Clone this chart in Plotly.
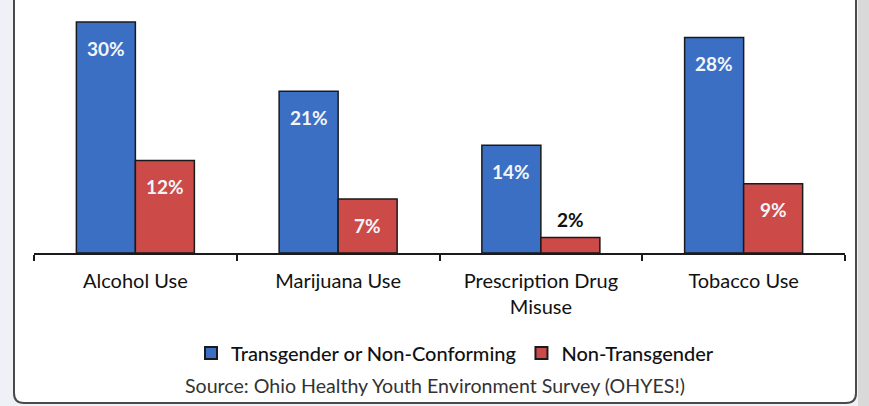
import plotly.graph_objects as go

# Substance use among Ohio youth, by gender identity (percent)
categories = ["Alcohol Use", "Marijuana Use", "Prescription Drug<br>Misuse", "Tobacco Use"]
trans_values = [30, 21, 14, 28]
nontrans_values = [12, 7, 2, 9]
series_names = ["Transgender or Non-Conforming", "Non-Transgender"]
source_text = "Source: Ohio Healthy Youth Environment Survey (OHYES!)"

BLUE = "#3b6fc4"
RED = "#cc4a48"
FONT = "Lato"

W, H = 869, 406
M_L, M_R, M_T, M_B = 34, 24, 0, 153
plot_w = W - M_L - M_R
plot_h = H - M_T - M_B
y_max = 32.86
bargap = 0.418
bar_px = plot_w / len(categories) * (1 - bargap) / 2


def px_x(p):
    return (p - M_L) / plot_w


def px_y(p):
    return (H - M_B - p) / plot_h


fig = go.Figure()
for name, vals, color in [(series_names[0], trans_values, BLUE),
                          (series_names[1], nontrans_values, RED)]:
    fig.add_trace(go.Bar(
        x=categories, y=vals, name=name,
        marker=dict(color=color, line=dict(color="#1a1a1a", width=1.5)),
        hoverinfo="skip",
    ))

# value labels placed relative to each bar top
annotations = []
for vals, shift in [(trans_values, -bar_px / 2), (nontrans_values, bar_px / 2)]:
    for cat, v in zip(categories, vals):
        inside = v >= 5
        annotations.append(dict(
            x=cat, y=v, xref="x", yref="y", text=f"{v}%",
            showarrow=False, xshift=shift, yanchor="middle",
            yshift=-26 if inside else 18,
            font=dict(family=FONT, size=19, color="#f3f5fa" if inside else "#111111",
                      weight="bold"),
        ))

annotations.append(dict(
    x=px_x(435), y=px_y(385), xref="paper", yref="paper", text=source_text,
    showarrow=False, xanchor="center", yanchor="middle",
    font=dict(family=FONT, size=19.6, color="#333333"),
))

# rounded frame around the chart
r_x, r_y = 10 / plot_w, 10 / plot_h
x0, x1 = px_x(14), px_x(856)
y_top, y_bot = px_y(-30), px_y(403)
frame_path = (
    f"M {x0},{y_top} L {x0},{y_bot + r_y} Q {x0},{y_bot} {x0 + r_x},{y_bot} "
    f"L {x1 - r_x},{y_bot} Q {x1},{y_bot} {x1},{y_bot + r_y} L {x1},{y_top} Z"
)
shapes = [
    dict(type="rect", xref="paper", yref="paper", x0=px_x(858), x1=px_x(880),
         y0=px_y(420), y1=px_y(-30), fillcolor="#d9d9d9", line=dict(width=0), layer="below"),
    dict(type="path", xref="paper", yref="paper", path=frame_path,
         fillcolor="#ffffff", line=dict(color="#4a4a4a", width=2), layer="below"),
]

fig.update_layout(
    width=W, height=H,
    margin=dict(l=M_L, r=M_R, t=M_T, b=M_B),
    paper_bgcolor="#eef1f5",
    plot_bgcolor="rgba(0,0,0,0)",
    barmode="group", bargap=bargap, bargroupgap=0,
    showlegend=True,
    legend=dict(
        orientation="h", x=px_x(455), xanchor="center", y=px_y(353), yanchor="middle",
        font=dict(family=FONT, size=20, color="#111111", weight=500),
        bgcolor="rgba(0,0,0,0)", itemsizing="constant",
    ),
    annotations=annotations,
    shapes=shapes,
    font=dict(family=FONT),
)
fig.update_xaxes(
    showline=True, linecolor="#1a1a1a", linewidth=1.5,
    ticks="outside", tickson="boundaries", ticklen=6, tickcolor="#1a1a1a", tickwidth=1.5,
    tickfont=dict(family=FONT, size=20, color="#111111"),
    ticklabelstandoff=9,
    showgrid=False, zeroline=False,
)
fig.update_yaxes(visible=False, range=[0, y_max], showgrid=False, zeroline=False)

fig.write_html("out.html")
